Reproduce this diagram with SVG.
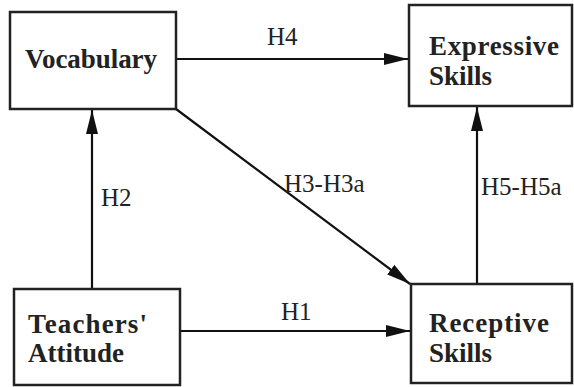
<svg xmlns="http://www.w3.org/2000/svg" width="574" height="387" viewBox="0 0 574 387">
<style>
.box{fill:#fff;stroke:#222;stroke-width:2.5}
.t{font-family:"Liberation Serif","Times New Roman",serif;font-weight:bold;font-size:27px;fill:#222}
.l{font-family:"Liberation Serif","Times New Roman",serif;font-size:25px;fill:#222}
.c{stroke:#111;stroke-width:2.2;fill:none;marker-end:url(#ah)}
</style>
<defs>
<marker id="ah" markerUnits="userSpaceOnUse" markerWidth="24" markerHeight="12" refX="24" refY="6" orient="auto">
<path d="M0,0 L24,6 L0,12 z" fill="#111"/>
</marker>
</defs>
<rect width="574" height="387" fill="#fff"/>
<g id="connectors">
<line class="c" x1="176" y1="59" x2="408" y2="59"/>
<line class="c" x1="176" y1="109" x2="410" y2="284"/>
<line class="c" x1="180" y1="331" x2="410" y2="331"/>
<line class="c" x1="92" y1="289" x2="92" y2="110"/>
<line class="c" x1="477" y1="284" x2="477" y2="107"/>
<text class="l" x="267" y="45">H4</text>
<text class="l" x="101" y="206">H2</text>
<text class="l" x="284" y="192">H3-H3a</text>
<text class="l" x="481" y="195">H5-H5a</text>
<text class="l" x="281" y="320">H1</text>
</g>
<g id="vocabulary">
<rect class="box" x="10" y="12" width="166" height="97"/>
<text class="t" x="25" y="68" textLength="132">Vocabulary</text>
</g>
<g id="expressive">
<rect class="box" x="409" y="5" width="163" height="101"/>
<text class="t" x="429" y="55" textLength="130">Expressive</text>
<text class="t" x="429" y="85">Skills</text>
</g>
<g id="teachers">
<rect class="box" x="14" y="289" width="166" height="96"/>
<text class="t" x="28" y="333" textLength="119">Teachers'</text>
<text class="t" x="28" y="362">Attitude</text>
</g>
<g id="receptive">
<rect class="box" x="411" y="284" width="161" height="99"/>
<text class="t" x="429" y="332" textLength="120">Receptive</text>
<text class="t" x="429" y="362">Skills</text>
</g>
</svg>
